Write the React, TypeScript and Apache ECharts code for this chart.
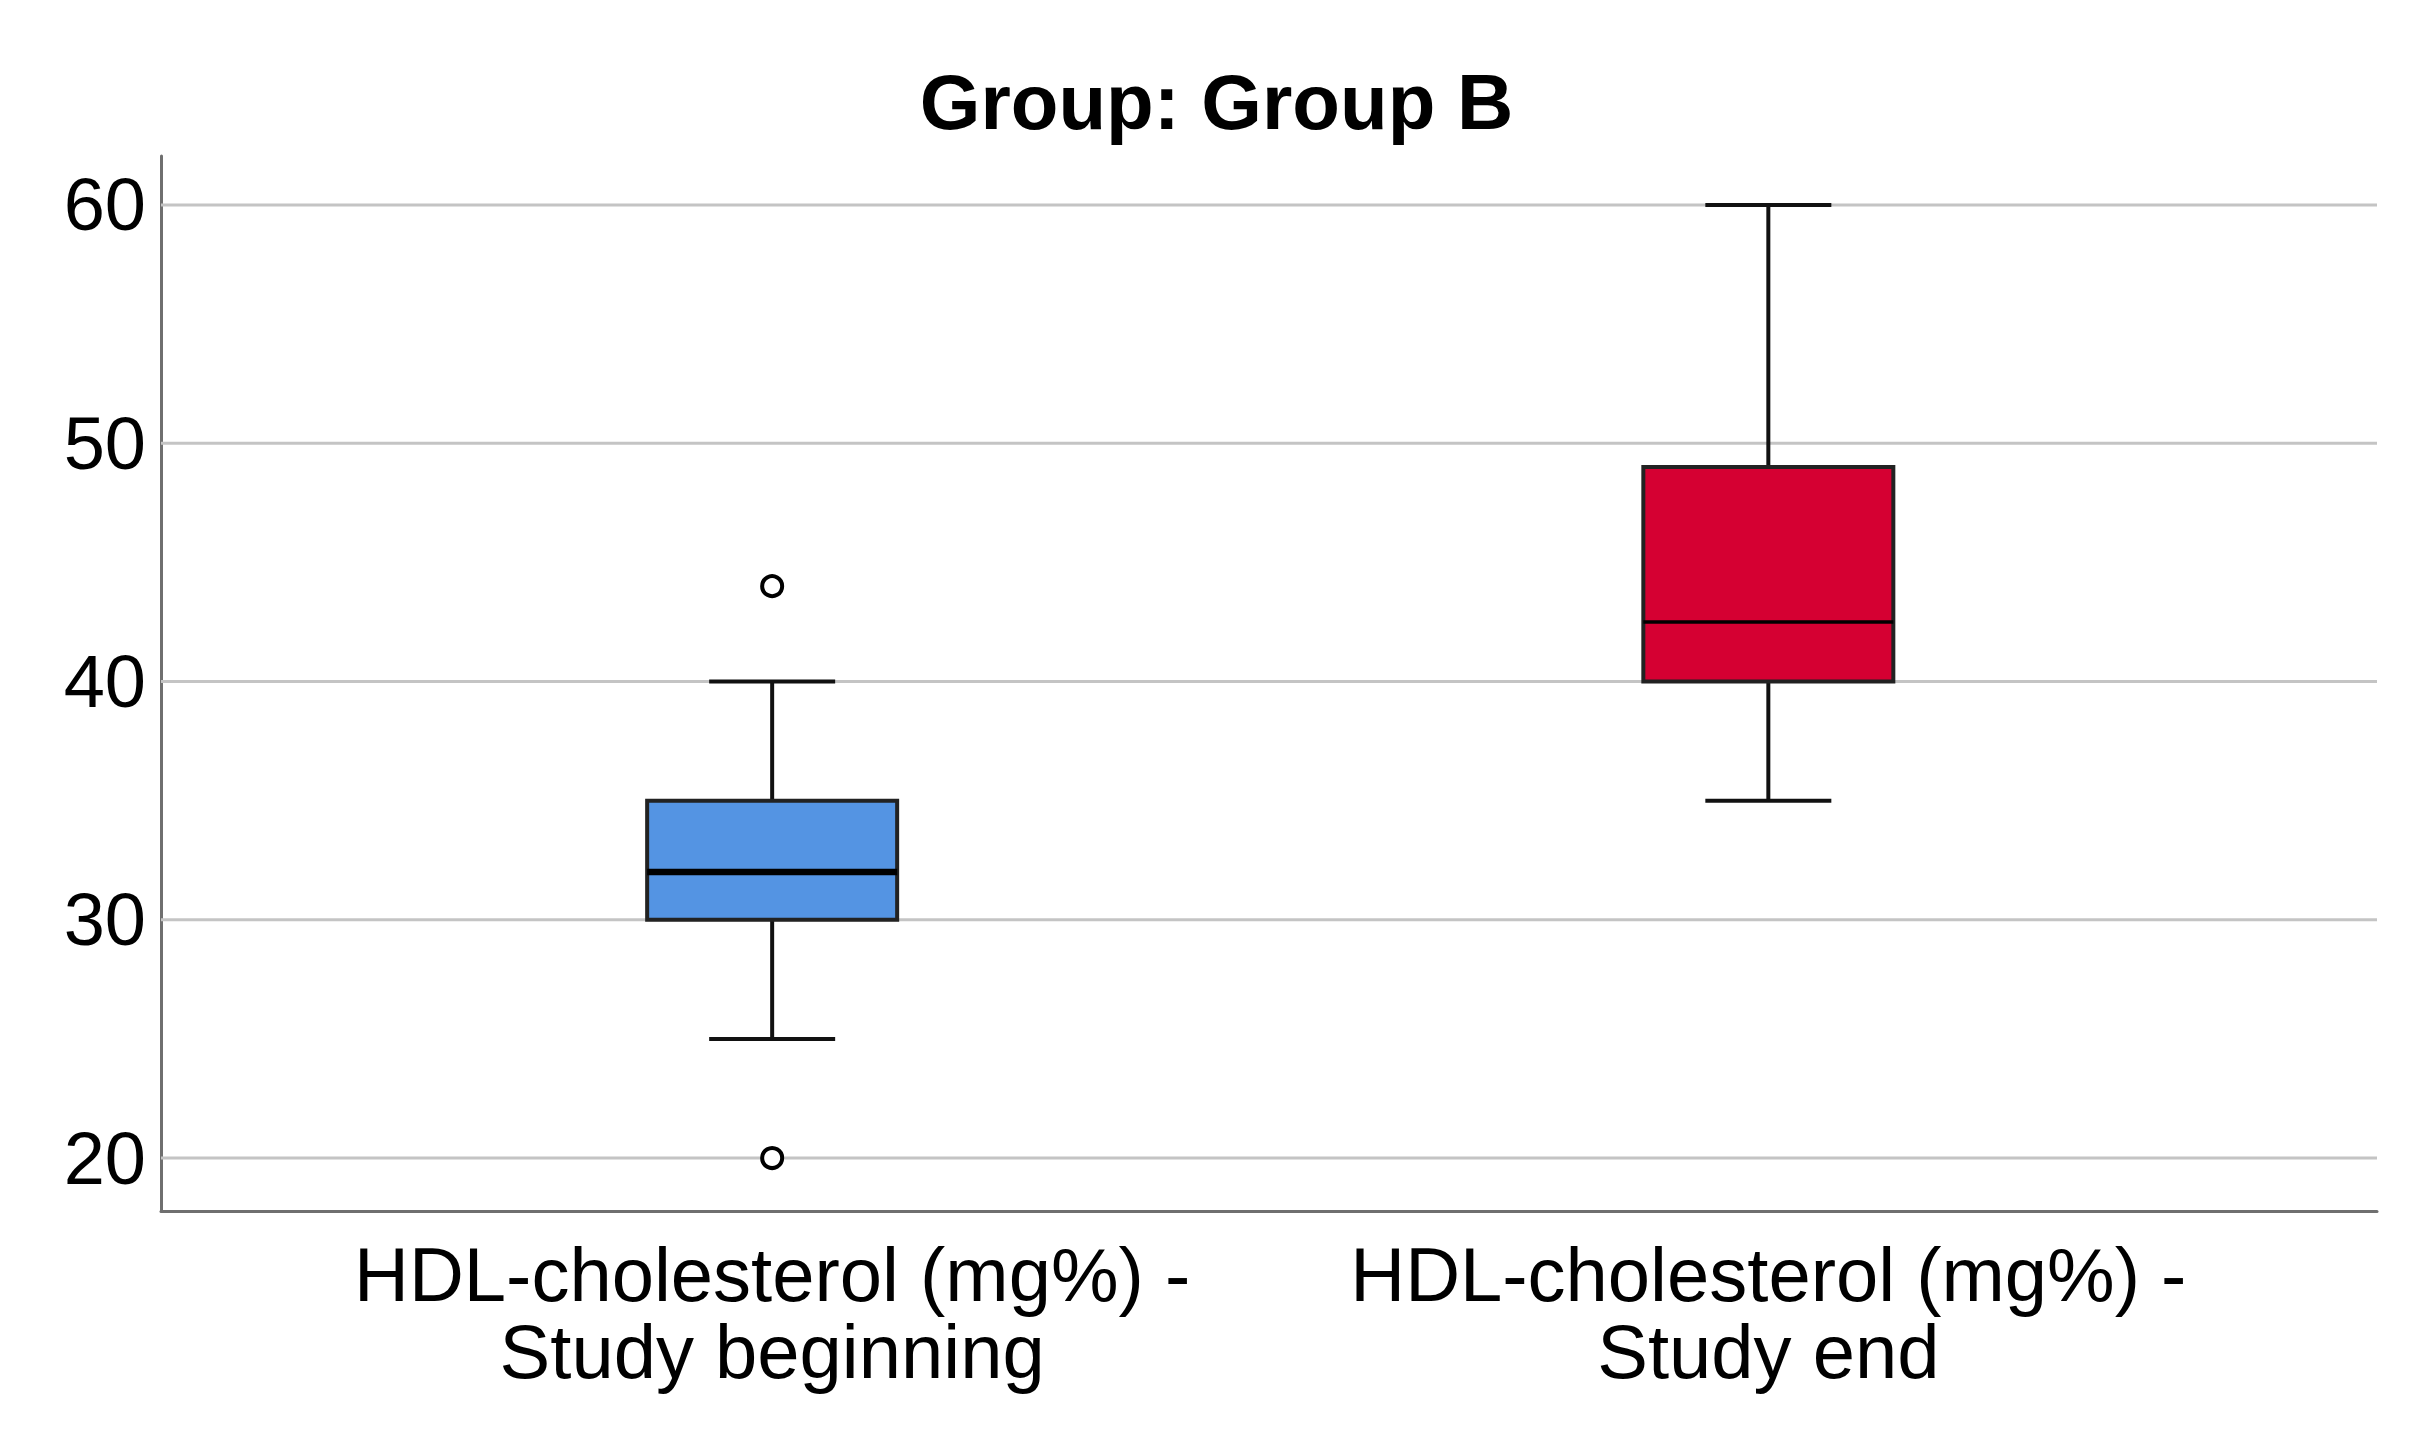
import React, { useEffect, useRef } from "react";
import * as echarts from "echarts";

// ---- data ----
const categories = [
  "HDL-cholesterol (mg%) -\nStudy beginning",
  "HDL-cholesterol (mg%) -\nStudy end",
];
const categoryPositions = [0, 1];
const whiskerLow = [25, 35];
const quartile1 = [30, 40];
const medians = [32, 42.5];
const quartile3 = [35, 49];
const whiskerHigh = [40, 60];
const outlierCategory = [0, 0];
const outlierValues = [44, 20];
const yTicks = [20, 30, 40, 50, 60];
const titleText = "Group: Group B";

// ---- styles ----
const boxColors = ["#5494E3", "#D50032"];
const medianWidths = [6.5, 3.5];
const BOX_HALF = 125;
const CAP_HALF = 63;
const FONT = "'Liberation Sans', Arial, sans-serif";

export default function App() {
  const ref = useRef<HTMLDivElement>(null);

  useEffect(() => {
    if (!ref.current) return;
    const chart = echarts.init(ref.current, undefined, { renderer: "svg" });

    const boxData = categoryPositions.map((x, i) => [
      x,
      whiskerLow[i],
      quartile1[i],
      medians[i],
      quartile3[i],
      whiskerHigh[i],
    ]);
    const outlierData = outlierValues.map((v, i) => [outlierCategory[i], v]);
    const gridData = yTicks.map((v) => [0, v]);

    const option: any = {
      animation: false,
      backgroundColor: "#ffffff",
      title: {
        text: titleText,
        left: "center",
        top: 58,
        textStyle: {
          fontFamily: FONT,
          fontWeight: "bold",
          fontSize: 78,
          color: "#000",
        },
      },
      grid: { left: 161, right: 56, top: 156, bottom: 219, containLabel: false },
      xAxis: {
        type: "value",
        min: -0.6135,
        max: 1.611,
        axisLine: { show: true, onZero: false, lineStyle: { color: "#6f6f6f", width: 3 } },
        axisTick: { show: false },
        splitLine: { show: false },
        axisLabel: {
          customValues: categoryPositions,
          formatter: (v: number) => {
            const idx = categoryPositions.findIndex((p) => Math.abs(p - v) < 1e-6);
            return idx >= 0 ? categories[idx] : "";
          },
          fontFamily: FONT,
          fontSize: 76,
          lineHeight: 77,
          color: "#000",
          margin: 25,
          align: "center",
        },
      },
      yAxis: {
        type: "value",
        min: 17.776,
        max: 62.056,
        axisLine: { show: true, onZero: false, lineStyle: { color: "#6f6f6f", width: 3 } },
        axisTick: { show: false },
        splitLine: { show: false },
        axisLabel: {
          customValues: yTicks,
          formatter: (v: number) => (yTicks.some((t) => Math.abs(t - v) < 1e-6) ? String(Math.round(v)) : ""),
          fontFamily: FONT,
          fontSize: 74,
          color: "#000",
          margin: 15,
          padding: [44, 0, 0, 0],
        },
      },
      series: [
        {
          type: "custom",
          name: "grid",
          z: 1,
          silent: true,
          data: gridData,
          encode: { x: 0, y: 1 },
          renderItem: (params: any, api: any) => {
            const y = api.coord([0, api.value(1)])[1];
            const cs = params.coordSys;
            return {
              type: "line",
              shape: { x1: cs.x, y1: y, x2: cs.x + cs.width, y2: y },
              style: { stroke: "#c4c4c4", lineWidth: 3 },
            };
          },
        },
        {
          type: "custom",
          name: "box",
          z: 3,
          data: boxData,
          encode: { x: 0, y: [1, 2, 3, 4, 5] },
          renderItem: (params: any, api: any) => {
            const x = api.value(0);
            const cx = api.coord([x, api.value(1)])[0];
            const yLow = api.coord([x, api.value(1)])[1];
            const yQ1 = api.coord([x, api.value(2)])[1];
            const yMed = api.coord([x, api.value(3)])[1];
            const yQ3 = api.coord([x, api.value(4)])[1];
            const yHigh = api.coord([x, api.value(5)])[1];
            const idx = params.dataIndex;
            const lineStyle = { stroke: "#111111", lineWidth: 4 };
            return {
              type: "group",
              children: [
                { type: "line", shape: { x1: cx, y1: yLow, x2: cx, y2: yQ1 }, style: lineStyle },
                { type: "line", shape: { x1: cx, y1: yQ3, x2: cx, y2: yHigh }, style: lineStyle },
                { type: "line", shape: { x1: cx - CAP_HALF, y1: yLow, x2: cx + CAP_HALF, y2: yLow }, style: lineStyle },
                { type: "line", shape: { x1: cx - CAP_HALF, y1: yHigh, x2: cx + CAP_HALF, y2: yHigh }, style: lineStyle },
                {
                  type: "rect",
                  shape: { x: cx - BOX_HALF, y: yQ3, width: BOX_HALF * 2, height: yQ1 - yQ3 },
                  style: { fill: boxColors[idx], stroke: "#222222", lineWidth: 4 },
                },
                {
                  type: "line",
                  shape: { x1: cx - BOX_HALF, y1: yMed, x2: cx + BOX_HALF, y2: yMed },
                  style: { stroke: "#000000", lineWidth: medianWidths[idx] },
                },
              ],
            };
          },
        },
        {
          type: "scatter",
          name: "outliers",
          z: 4,
          data: outlierData,
          symbol: "circle",
          symbolSize: 20,
          itemStyle: { color: "#ffffff", borderColor: "#000000", borderWidth: 4, opacity: 1 },
        },
      ],
    };

    chart.setOption(option);
    return () => chart.dispose();
  }, []);

  return (
    <div
      ref={ref}
      style={{ position: "fixed", left: 0, top: 0, width: 2433, height: 1430, background: "#fff" }}
    />
  );
}
